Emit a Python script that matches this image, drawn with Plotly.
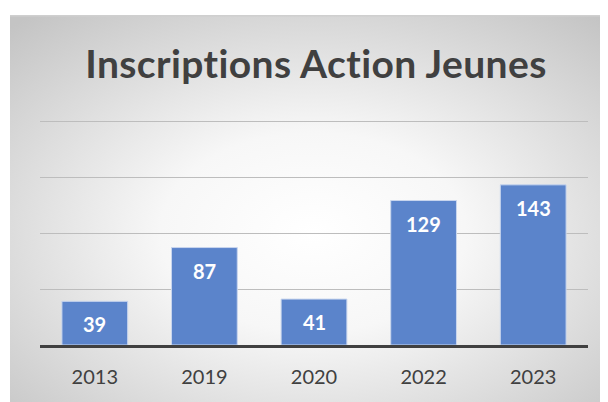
import base64
import plotly.graph_objects as go

years = ["2013", "2019", "2020", "2022", "2023"]
inscriptions = [39, 87, 41, 129, 143]
title_text = "Inscriptions Action Jeunes"

# page body adds an 8px offset; work in figure pixels
OFF = 8
W, H = 608, 402
ml, mr, mt, mb = 40 - OFF, W - (588 - OFF), 120 - OFF, H - (345 - OFF)
pw, ph = W - ml - mr, H - mt - mb

svg = (
    '<svg xmlns="http://www.w3.org/2000/svg" width="600" height="390" '
    'preserveAspectRatio="none" viewBox="0 0 600 390">'
    '<defs><radialGradient id="g" cx="50%" cy="55%" r="72%">'
    '<stop offset="0%" stop-color="#ffffff"/>'
    '<stop offset="35%" stop-color="#f7f7f7"/>'
    '<stop offset="100%" stop-color="#c4c4c4"/>'
    '</radialGradient></defs>'
    '<rect width="600" height="390" fill="url(#g)"/>'
    '<rect x="0" y="0" width="600" height="1.5" fill="#cfcfcf"/>'
    '</svg>'
)
src = "data:image/svg+xml;base64," + base64.b64encode(svg.encode()).decode()

def px_to_paper_x(px):
    return (px - ml) / pw

def px_to_paper_y(py):
    return (H - mb - py) / ph

fig = go.Figure()
fig.add_trace(go.Bar(
    x=years, y=inscriptions,
    marker_color="#5B84CB",
    marker_line_color="#c9d6ee",
    marker_line_width=1,
))

# category index positions for the value labels
for i, v in enumerate(inscriptions):
    fig.add_annotation(x=i, y=v, xref="x", yref="y", text=f"<b>{v}</b>",
                       showarrow=False, yanchor="middle", yshift=-23,
                       font=dict(family="Lato", size=20, color="white"))

fig.add_layout_image(dict(
    source=src, xref="paper", yref="paper",
    x=px_to_paper_x(10 - OFF), y=px_to_paper_y(15 - OFF),
    sizex=px_to_paper_x(608) - px_to_paper_x(10 - OFF),
    sizey=px_to_paper_y(15 - OFF) - px_to_paper_y(402),
    xanchor="left", yanchor="top", sizing="stretch", layer="below",
))

fig.update_layout(
    width=W, height=H,
    margin=dict(l=ml, r=mr, t=mt, b=mb),
    paper_bgcolor="white",
    plot_bgcolor="rgba(0,0,0,0)",
    bargap=0.4,
    showlegend=False,
    title=dict(text=f'<b><span style="letter-spacing:0.4px">{title_text}</span></b>',
               x=(316 - OFF) / W, xanchor="center",
               y=1 - (64 - OFF) / H, yanchor="middle", yref="container",
               font=dict(family="Lato", size=39, color="#404040")),
    xaxis=dict(type="category", showline=True, linecolor="#404040", linewidth=3,
               ticks="outside", ticklen=12, tickcolor="rgba(0,0,0,0)", showgrid=False,
               tickfont=dict(family="Lato", size=20, color="#404040")),
    yaxis=dict(range=[0, 200.9], tickmode="linear", tick0=0, dtick=50,
               showticklabels=False,
               showgrid=True, gridcolor="#bdbdbd", gridwidth=1,
               zeroline=False, showline=False),
)

fig.write_html("out.html")
